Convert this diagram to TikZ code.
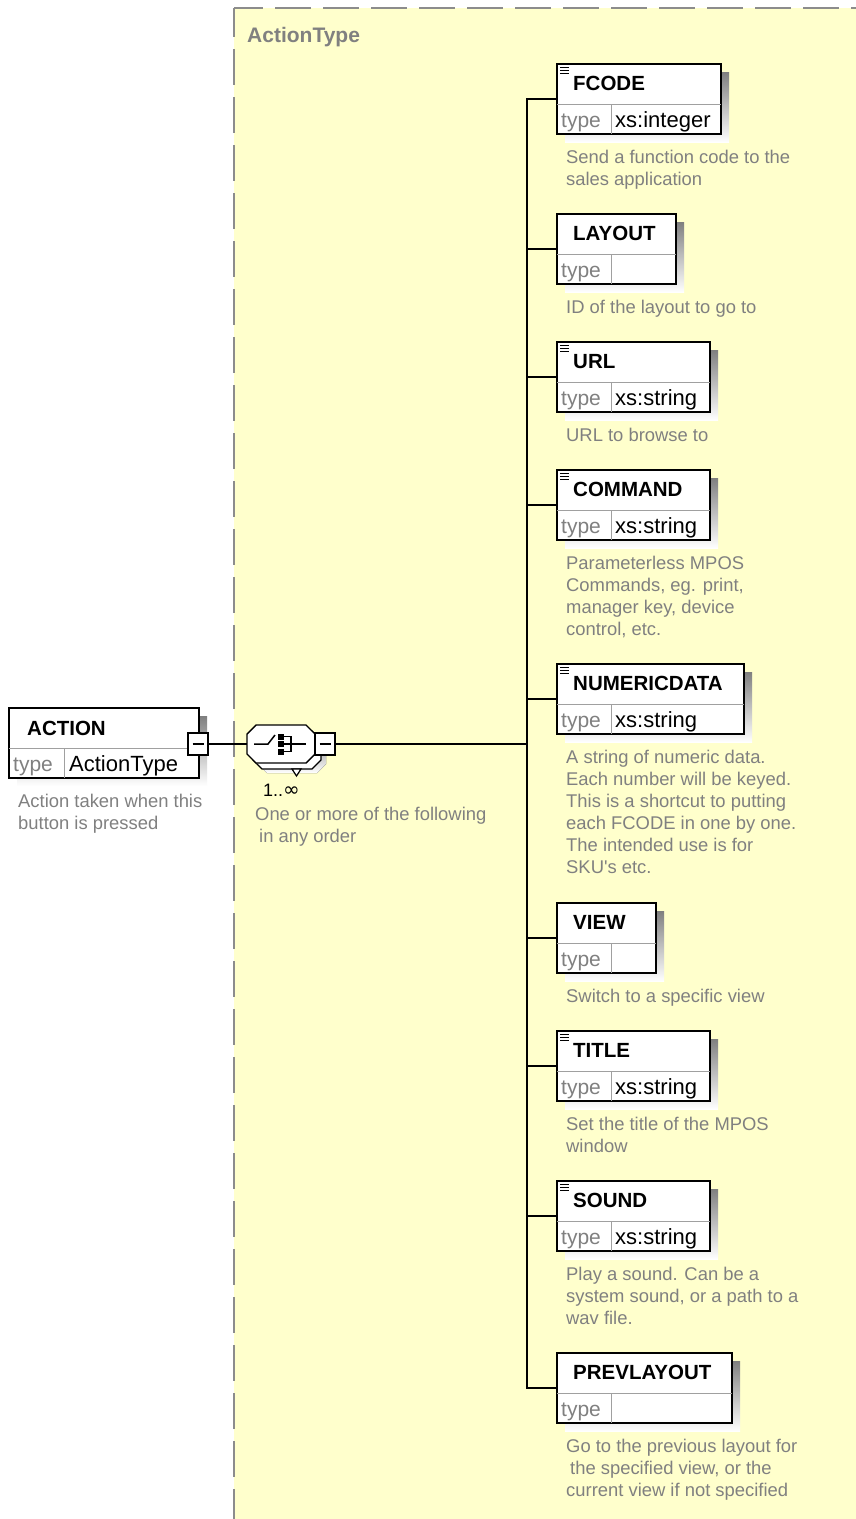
\documentclass[tikz,border=0pt]{standalone}
\usepackage{fontspec}
\setmainfont{Liberation Sans}
\newfontfamily\symfont{DejaVu Sans}
\usetikzlibrary{calc}

\definecolor{panel}{HTML}{FFFFCC}
\definecolor{dashgray}{HTML}{8C8C8C}
\definecolor{shade}{HTML}{C4C4C4}
\definecolor{note}{HTML}{808080}
\definecolor{rule}{HTML}{A0A0A0}

\tikzset{
  elembox/.style={draw=black, line width=1.8pt, fill=white, inner sep=0pt, outer sep=0pt,
                  anchor=north west, minimum height=70pt},
  conn/.style={line width=1.6pt, black},
  divider/.style={line width=1pt, draw=rule},
  nametext/.style={font=\fontsize{20.5}{24}\selectfont\bfseries, anchor=base west, inner sep=0pt},
  typelabel/.style={font=\fontsize{21}{24}\selectfont, text=note, anchor=base west, inner sep=0pt},
  typevalue/.style={font=\fontsize{22}{24}\selectfont, anchor=base west, inner sep=0pt},
  desctext/.style={font=\fontsize{18.4}{22}\selectfont, text=note, anchor=north west,
                   inner sep=0pt, align=left},
  minusbox/.style={draw=black, line width=1.4pt, fill=white, minimum width=20pt,
                   minimum height=22pt, inner sep=0pt, outer sep=0pt},
  panelborder/.style={dashgray, line width=2pt, dash pattern=on 36pt off 12pt},
  glyph/.style={line width=1.5pt},
}

% child element of the choice: #1 id, #2 top, #3 right edge, #4 name,
% #5 type, #6 simple-content icon (1/0), #7 documentation
\newcommand\xsdelem[7]{%
  \fill[shade] (565,#2+8) rectangle (#3+8,#2+78);
  \node[elembox, minimum width=#3-557] (#1) at (557,#2) {};
  \draw[divider] (557,#2+40) -- (#3,#2+40);
  \draw[divider] (611,#2+40) -- (611,#2+70);
  \ifnum#6=1
    \draw[line width=1pt] (560,#2+3.5) -- (569,#2+3.5)
                          (560,#2+6.5) -- (569,#2+6.5)
                          (560,#2+9.5) -- (569,#2+9.5);
  \fi
  \node[nametext] (#1-name) at (573,#2+26) {#4};
  \node[typelabel] (#1-tl) at (561,#2+63) {type};
  \node[typevalue] (#1-tv) at (615,#2+63) {#5};
  \node[desctext] (#1-doc) at (566,#2+99-15.4) {\strut #7};
  \draw[conn] (#1.west) -| (bus);
}

\begin{document}
\begin{tikzpicture}[x=1pt,y=-1pt]
\useasboundingbox (0,0) rectangle (856,1519);
\fill[white] (0,0) rectangle (856,1519);

% complex type panel
\fill[panel] (234,8) rectangle (856,1519);
\draw[panelborder, dash phase=7pt] (234,8) -- (856,8);
\draw[panelborder, dash phase=7pt] (234,8) -- (234,1519);
\node[font=\fontsize{21}{24}\selectfont\bfseries, text=note, anchor=base west, inner sep=0pt]
  (typename) at (247,42) {ActionType};

% junction on the vertical bus
\coordinate (bus) at (527,744);

% root element ACTION
\fill[shade] (17,716) rectangle (207,786);
\node[elembox, minimum width=190pt] (action) at (9,708) {};
\draw[divider] (9,748) -- (199,748);
\draw[divider] (64,748) -- (64,778);
\node[nametext] (action-name) at (27,735) {ACTION};
\node[typelabel] (action-tl) at (13,771) {type};
\node[typevalue] (action-tv) at (69,771) {ActionType};
\node[desctext] (action-doc) at (18,807-15.4) {\strut Action taken when this\\button is pressed};
\node[minusbox] (aminus) at (198,744) {};
\draw[line width=1.3pt] (192.5,744) -- (203.5,744);

% choice compositor (1..unbounded)
\begin{scope}[shift={(11,10)}]
  \fill[shade] (256,725) -- (306,725) -- (315,734) -- (315,754) -- (306,763)
               -- (256,763) -- (247,754) -- (247,734) -- cycle;
\end{scope}
\begin{scope}[shift={(6,6)}]
  \filldraw[fill=white, draw=black, line width=1.2pt]
    (256,725) -- (306,725) -- (315,734) -- (315,754) -- (306,763)
    -- (256,763) -- (247,754) -- (247,734) -- cycle;
\end{scope}
\filldraw[fill=white, draw=black, line width=1.2pt] (292,769) -- (301,769) -- (296.5,776) -- cycle;
\filldraw[fill=white, draw=black, line width=1.4pt]
  (256,725) -- (306,725) -- (315,734) -- (315,754) -- (306,763)
  -- (256,763) -- (247,754) -- (247,734) -- cycle;
\node[minimum width=68pt, minimum height=38pt, inner sep=0pt, outer sep=0pt] (choice) at (281,744) {};
\draw[glyph] (254,744) -- (268,744) -- (275,735);
\fill (277.5,733.5) rectangle +(6,6);
\fill (277.5,741) rectangle +(6,6);
\fill (277.5,748.5) rectangle +(6,6);
\draw[glyph] (283.5,736.5) -- (291,736.5) -- (291,751.5) -- (283.5,751.5);
\draw[glyph] (283.5,744) -- (306,744);
\node[minusbox] (cminus) at (325,744) {};
\draw[line width=1.3pt] (319.5,744) -- (330.5,744);
\node[font=\fontsize{18}{22}\selectfont, anchor=base west, inner sep=0pt] (occurs) at (263,796)
  {1..{\symfont\fontsize{20}{22}\selectfont ∞}};
\node[desctext] (choice-doc) at (255,820-15.4) {\strut One or more of the following\\\hspace*{4pt}in any order};

% connectors
\draw[conn] (aminus.east) -- (choice.west);
\draw[conn] (cminus.east) -- (bus);

% child elements
\xsdelem{fcode}{64}{721}{FCODE}{xs:integer}{1}{Send a function code to the\\sales application}
\xsdelem{layout}{214}{676}{LAYOUT}{}{0}{ID of the layout to go to}
\xsdelem{url}{342}{710}{URL}{xs:string}{1}{URL to browse to}
\xsdelem{command}{470}{710}{COMMAND}{xs:string}{1}{Parameterless MPOS\\Commands, eg. print,\\manager key, device\\control, etc.}
\xsdelem{numericdata}{664}{744}{NUMERICDATA}{xs:string}{1}{A string of numeric data.\\Each number will be keyed.\\This is a shortcut to putting\\each FCODE in one by one.\\The intended use is for\\SKU\textquotesingle s etc.}
\xsdelem{view}{903}{656}{VIEW}{}{0}{Switch to a specific view}
\xsdelem{title}{1031}{710}{TITLE}{xs:string}{1}{Set the title of the MPOS\\window}
\xsdelem{sound}{1181}{710}{SOUND}{xs:string}{1}{Play a sound. Can be a\\system sound, or a path to a\\wav file.}
\xsdelem{prevlayout}{1353}{732}{PREVLAYOUT}{}{0}{Go to the previous layout for\\\hspace*{4pt}the specified view, or the\\current view if not specified}
\end{tikzpicture}
\end{document}
